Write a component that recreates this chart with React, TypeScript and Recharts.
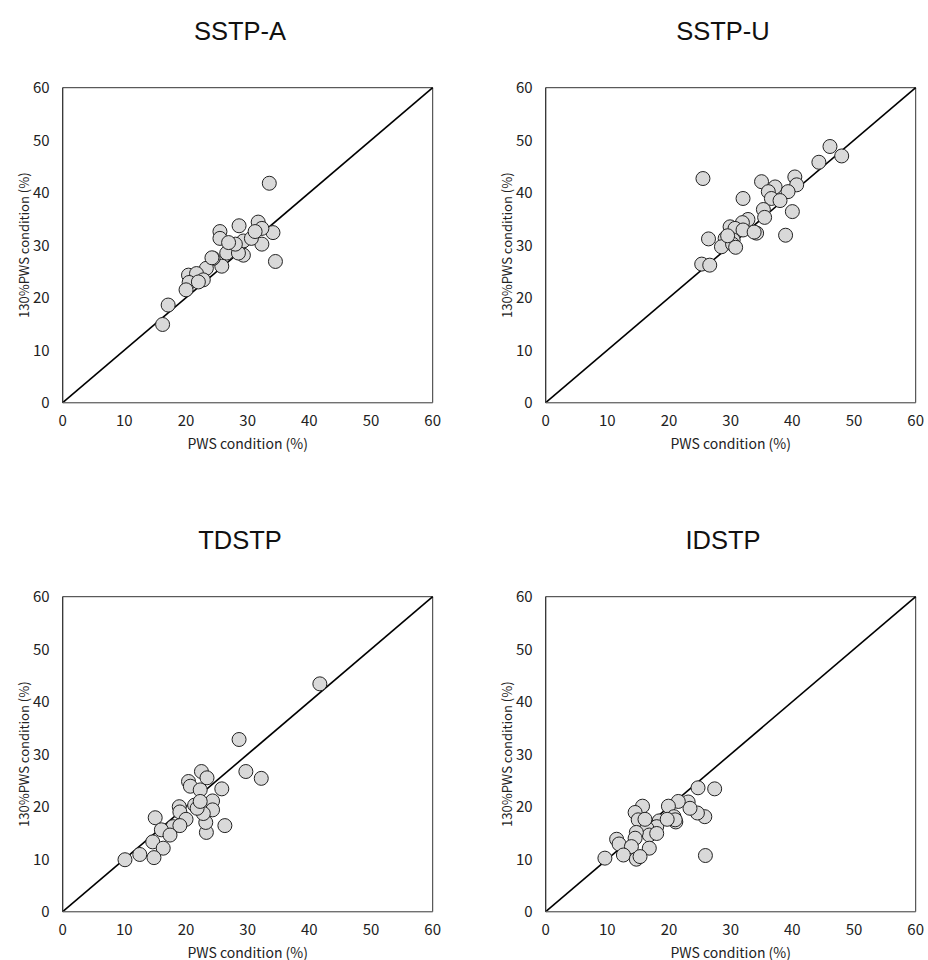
import React from "react";
import {
  ScatterChart,
  Scatter,
  XAxis,
  YAxis,
  ReferenceLine,
  ReferenceArea,
  Label,
} from "recharts";

type Pt = { x: number; y: number };

const toPts = (rows: number[][]): Pt[] => rows.map(([x, y]) => ({ x, y }));

// PWS condition (%) vs 130%PWS condition (%)
const sstpA = toPts([
  [33.5, 41.8], [16.2, 14.9], [17.1, 18.6], [34.5, 26.9], [34.1, 32.4],
  [28.6, 33.7], [25.5, 32.6], [25.5, 31.3], [31.7, 34.4], [32.3, 33.2],
  [32.3, 30.2], [29.3, 30.8], [29.3, 28.1], [27.2, 29.8], [26.6, 28.5],
  [28.5, 28.5], [25.8, 26.0], [24.4, 27.5], [23.3, 25.6], [20.4, 24.3],
  [21.7, 24.6], [20.5, 22.9], [20.0, 21.5], [22.8, 23.4], [30.6, 31.3],
  [28.0, 30.2], [24.2, 27.6], [26.9, 30.5], [22.0, 23.0], [31.2, 32.6],
]);

const sstpU = toPts([
  [25.5, 42.7], [46.1, 48.8], [48.0, 47.0], [44.3, 45.8], [40.4, 43.0],
  [40.7, 41.5], [35.0, 42.1], [37.2, 41.1], [36.1, 40.2], [39.3, 40.2],
  [36.6, 38.9], [38.0, 38.5], [32.0, 38.9], [35.3, 36.8], [40.0, 36.4],
  [38.9, 31.9], [26.4, 31.2], [35.5, 35.3], [32.8, 34.9], [31.9, 34.3],
  [29.9, 33.5], [30.7, 33.2], [32.0, 32.9], [34.2, 32.3], [29.1, 31.3],
  [30.4, 31.0], [28.5, 29.7], [30.3, 30.2], [30.8, 29.6], [25.3, 26.4],
  [26.6, 26.2], [29.5, 31.8], [33.8, 32.5],
]);

const tdstp = toPts([
  [41.7, 43.4], [28.6, 32.8], [29.7, 26.7], [32.2, 25.4], [26.3, 16.4],
  [23.3, 15.1], [23.2, 17.0], [22.5, 26.7], [23.4, 25.5], [20.4, 24.8],
  [20.7, 23.9], [22.3, 23.2], [25.8, 23.4], [24.3, 21.1], [24.3, 19.4],
  [21.4, 20.3], [22.8, 18.7], [18.9, 20.0], [19.0, 19.0], [20.0, 17.6],
  [15.0, 17.9], [17.9, 16.2], [19.0, 16.4], [16.0, 15.6], [17.4, 14.6],
  [14.6, 13.3], [16.3, 12.1], [12.5, 10.9], [14.8, 10.3], [10.1, 9.9],
  [21.8, 19.7], [22.3, 21.0],
]);

const idstp = toPts([
  [27.4, 23.4], [24.7, 23.6], [25.9, 10.7], [25.8, 18.1], [24.6, 18.8],
  [23.1, 20.9], [23.4, 19.7], [21.5, 21.0], [19.9, 20.1], [20.8, 18.1],
  [21.1, 17.1], [21.0, 17.5], [18.4, 17.3], [18.0, 16.2], [15.7, 20.1],
  [14.5, 18.9], [15.0, 17.5], [16.4, 15.9], [16.8, 14.6], [14.7, 15.1],
  [14.5, 14.0], [11.5, 13.8], [11.9, 12.9], [16.8, 12.1], [13.9, 12.4],
  [12.6, 10.8], [9.6, 10.2], [14.7, 10.0], [15.3, 10.5], [18.0, 14.9],
  [19.7, 17.6], [16.1, 17.6],
]);

const ticks = [0, 10, 20, 30, 40, 50, 60];

const font = '"Noto Sans CJK JP", "Noto Sans", sans-serif';

const Dot = (props: any) => (
  <circle cx={props.cx} cy={props.cy} r={7} fill="#d9d9d9" stroke="#222" strokeWidth={1} />
);

const Panel = ({ title, data, left, top }: { title: string; data: Pt[]; left: number; top: number }) => (
  <div style={{ position: "absolute", left, top, width: 460, height: 470 }}>
    <div
      style={{
        position: "absolute",
        left: 0,
        top: 16,
        width: 480,
        textAlign: "center",
        fontFamily: '"Liberation Sans", Arial, sans-serif',
        fontSize: 25.5,
        lineHeight: "30px",
        color: "#111",
      }}
    >
      {title}
    </div>
    <ScatterChart
      width={450}
      height={460}
      margin={{ top: 87.7, right: 17.3, bottom: 7.3, left: 0 }}
    >
      <XAxis
        type="number"
        dataKey="x"
        domain={[0, 60]}
        ticks={ticks}
        tickLine={false}
        axisLine={{ stroke: "#777" }}
        tick={{ fill: "#222", fontSize: 15, fontFamily: font }}
        tickMargin={7}
        height={50}
      >
        <Label value="PWS condition (%)" position="insideBottom" offset={4} style={{ fill: "#222", fontSize: 14, fontFamily: font }} />
      </XAxis>
      <YAxis
        type="number"
        dataKey="y"
        domain={[0, 60]}
        ticks={ticks}
        tickLine={false}
        axisLine={{ stroke: "#333" }}
        tick={{ fill: "#222", fontSize: 15, fontFamily: font }}
        tickMargin={7}
        width={62.7}
      >
        <Label
          value="130%PWS condition (%)"
          angle={-90}
          position="insideLeft"
          offset={24}
          style={{ textAnchor: "middle", fill: "#222", fontSize: 13, fontFamily: font }}
        />
      </YAxis>
      <ReferenceArea x1={0} x2={60} y1={0} y2={60} fill="none" stroke="#333" strokeWidth={1} ifOverflow="visible" />
      <ReferenceLine
        segment={[{ x: 0, y: 0 }, { x: 60, y: 60 }]}
        stroke="#000"
        strokeWidth={1.6}
      />
      <Scatter data={data} shape={<Dot />} isAnimationActive={false} />
    </ScatterChart>
  </div>
);

export default function App() {
  return (
    <div style={{ position: "absolute", left: 0, top: 0, width: 928, height: 960, background: "#fff" }}>
      <Panel title="SSTP-A" data={sstpA} left={0} top={0} />
      <Panel title="SSTP-U" data={sstpU} left={483} top={0} />
      <Panel title="TDSTP" data={tdstp} left={0} top={509} />
      <Panel title="IDSTP" data={idstp} left={483} top={509} />
    </div>
  );
}
